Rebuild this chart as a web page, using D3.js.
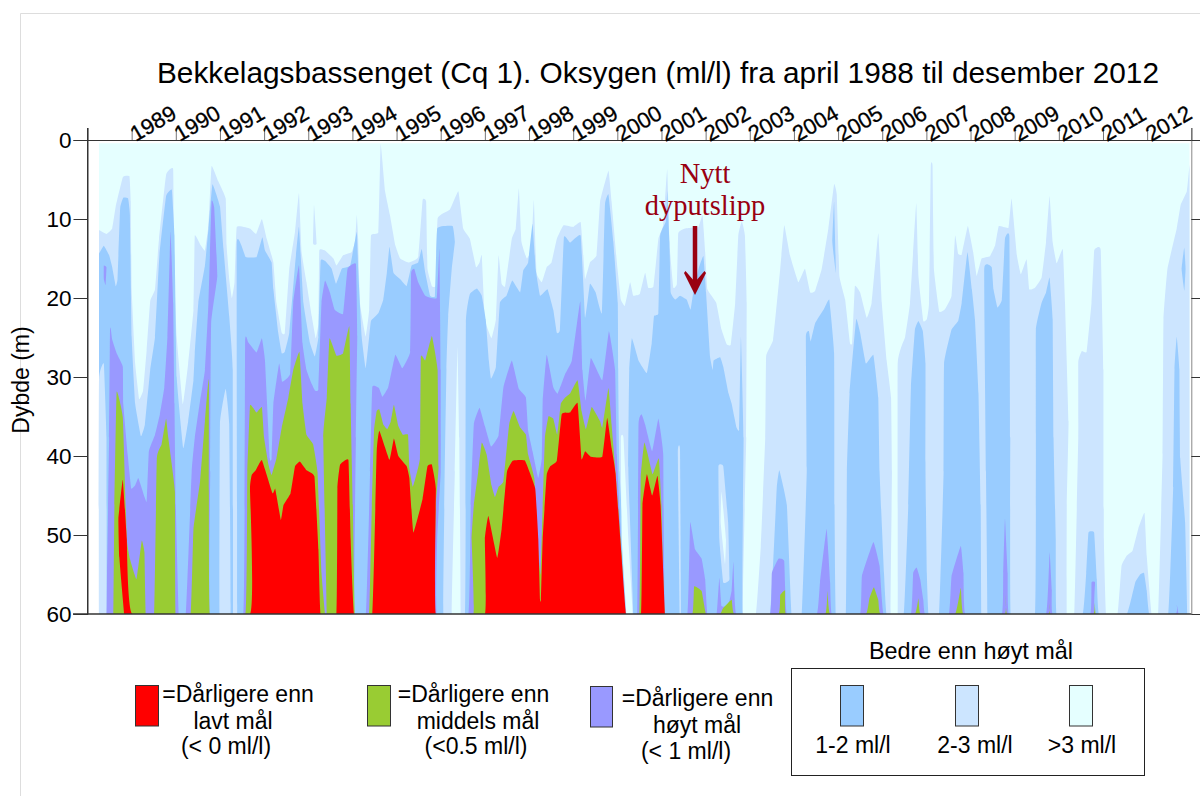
<!DOCTYPE html>
<html><head><meta charset="utf-8">
<script src="https://cdn.jsdelivr.net/npm/d3@7"></script>
<style>html,body{margin:0;background:#fff}svg{display:block}text{font-family:"Liberation Sans",Arial,sans-serif;fill:#000}</style>
</head><body><svg id="c" width="1200" height="796"></svg>
<script>
// x = years since January 1988, depth in metres
const yearLabels=[1989,1990,1991,1992,1993,1994,1995,1996,1997,1998,1999,2000,2001,2002,2003,2004,2005,2006,2007,2008,2009,2010,2011,2012];
const depthTicks=[0,10,20,30,40,50,60];
const surface=[[0.26,0.4],[24.96,0.4]];
// depth of the 3 ml/l isoline
const iso3=[[0.26,11.4],[0.43,11.9],[0.56,11.2],[0.64,8.4],[0.80,4.7],[0.95,4.6],[0.98,7.8],[1.00,18.9],[1.08,28.3],[1.17,32.8],[1.26,31.7],[1.34,26.6],[1.42,20.4],[1.53,18.9],[1.62,12.5],[1.78,4.4],[1.94,3.7],[1.96,16.3],[2.02,24.9],[2.16,33.4],[2.28,28.3],[2.40,21.5],[2.43,12.1],[2.56,13.3],[2.66,14.0],[2.74,10.8],[2.81,3.3],[2.96,5.2],[3.13,7.4],[3.15,13.3],[3.21,17.6],[3.27,20.0],[3.33,18.0],[3.38,11.0],[3.68,11.2],[3.82,11.9],[3.95,10.0],[4.06,12.5],[4.21,15.5],[4.28,20.6],[4.40,24.4],[4.47,24.4],[4.57,16.3],[4.70,11.6],[4.79,6.7],[4.85,14.2],[4.96,18.0],[5.08,22.3],[5.17,25.1],[5.23,23.2],[5.25,14.0],[5.38,14.0],[5.57,15.0],[5.64,15.9],[5.79,14.6],[5.98,14.2],[6.06,12.9],[6.10,9.5],[6.13,12.5],[6.17,20.6],[6.30,24.9],[6.38,21.5],[6.42,12.1],[6.59,11.6],[6.64,0.5],[6.74,6.5],[6.85,9.5],[6.97,13.3],[7.08,15.0],[7.27,15.5],[7.49,14.8],[7.59,7.6],[7.67,7.8],[7.70,16.3],[7.80,18.5],[7.89,18.4],[7.93,9.9],[8.21,8.8],[8.40,6.5],[8.51,11.2],[8.66,12.5],[8.80,16.1],[8.88,15.5],[8.93,14.6],[9.00,22.7],[9.15,25.1],[9.25,22.7],[9.31,14.6],[9.38,18.2],[9.46,18.5],[9.61,12.5],[9.70,11.2],[9.77,6.1],[9.83,12.9],[9.95,15.0],[10.05,13.8],[10.11,7.6],[10.17,16.8],[10.29,18.0],[10.40,16.1],[10.51,15.5],[10.63,12.5],[10.78,10.8],[11.00,11.0],[11.17,10.4],[11.23,14.6],[11.27,17.6],[11.38,15.5],[11.53,14.6],[11.61,7.8],[11.80,3.9],[11.87,7.8],[11.99,15.5],[12.08,20.2],[12.17,21.0],[12.29,18.0],[12.36,19.7],[12.51,19.5],[12.63,16.8],[12.70,18.7],[12.82,18.5],[12.93,12.5],[13.04,10.8],[13.13,3.7],[13.19,13.8],[13.27,18.7],[13.35,18.2],[13.38,11.8],[13.53,11.2],[13.70,11.1],[13.84,11.0],[13.93,9.5],[13.99,14.2],[14.04,18.9],[14.24,20.6],[14.36,24.0],[14.48,25.9],[14.57,25.9],[14.67,20.6],[14.74,12.1],[14.82,10.3],[14.89,12.1],[14.93,20.6],[14.92,37.7],[14.84,60],[15.14,60],[15.25,51.4],[15.35,37.7],[15.37,27.4],[15.53,25.3],[15.69,16.3],[15.78,10.8],[15.91,14.6],[16.10,18.0],[16.25,16.3],[16.37,19.3],[16.48,19.1],[16.63,16.3],[16.78,11.2],[16.91,5.6],[16.97,6.9],[17.03,17.2],[17.16,20.2],[17.27,25.7],[17.32,25.7],[17.38,18.5],[17.50,19.3],[17.65,22.5],[17.76,20.6],[17.91,11.8],[17.99,20.6],[18.10,27.9],[18.20,32.6],[18.22,42],[18.19,60],[18.35,60],[18.35,28.3],[18.52,24.9],[18.63,20.6],[18.77,8.0],[18.82,17.2],[18.93,22.9],[19.01,22.7],[19.06,20.6],[19.10,3.3],[19.14,3.3],[19.17,16.3],[19.29,21.7],[19.41,21.5],[19.57,19.7],[19.65,12.1],[19.72,14.4],[19.80,14.5],[19.94,10.9],[20.06,14.2],[20.14,17.2],[20.25,15.0],[20.44,14.7],[20.56,13.3],[20.64,10.9],[20.86,11.1],[20.93,7.4],[21.05,14.6],[21.14,17.0],[21.27,15.1],[21.33,18.9],[21.46,18.7],[21.61,17.4],[21.71,12.9],[21.79,7.1],[21.86,12.9],[21.95,15.6],[22.09,13.8],[22.14,20.6],[22.22,35.6],[22.18,46.2],[22.18,60],[22.35,60],[22.44,37.7],[22.44,28.1],[22.52,26.7],[22.63,26.8],[22.74,20.6],[22.80,14.0],[22.87,13.6],[22.95,14.0],[23.01,29.1],[23.02,50.5],[23.07,60],[23.33,60],[23.42,53.9],[23.54,52.6],[23.67,52.0],[23.80,49.2],[23.94,47.2],[23.99,52.6],[24.10,60],[24.25,60],[24.35,39.8],[24.37,22.7],[24.46,16.3],[24.67,11.2],[24.76,8.2],[24.90,6.5],[24.96,3.1]];
// depth of the 2 ml/l isoline
const iso2=[[0.26,14.4],[0.37,13.4],[0.49,14.6],[0.56,16.1],[0.64,18.5],[0.68,17.6],[0.74,8.6],[0.81,7.3],[0.92,7.4],[0.96,9.5],[1.00,24.9],[1.08,33.4],[1.21,37.5],[1.30,36.0],[1.42,29.1],[1.53,24.9],[1.63,14.5],[1.78,7.1],[1.91,6.3],[1.97,12.1],[2.02,30.0],[2.17,39.0],[2.28,35.6],[2.40,30.4],[2.43,27.0],[2.51,20.6],[2.66,15.9],[2.74,11.2],[2.83,5.6],[3.00,8.4],[3.08,13.8],[3.21,22.3],[3.29,29.1],[3.30,60],[3.39,60],[3.38,13.1],[3.58,14.8],[3.83,14.8],[3.96,12.3],[4.02,14.0],[4.17,15.5],[4.21,18.9],[4.32,24.4],[4.40,27.0],[4.47,26.8],[4.57,24.4],[4.70,15.9],[4.79,11.0],[4.89,20.6],[5.04,25.7],[5.15,27.4],[5.23,24.9],[5.28,15.3],[5.38,15.3],[5.53,16.3],[5.63,18.2],[5.76,16.3],[5.95,15.9],[6.10,11.6],[6.13,16.3],[6.21,24.9],[6.30,28.9],[6.38,24.9],[6.42,22.9],[6.59,21.9],[6.70,20.2],[6.78,16.8],[6.84,13.5],[6.93,16.8],[7.08,17.6],[7.23,18.5],[7.34,15.9],[7.49,15.5],[7.57,13.8],[7.65,16.8],[7.76,19.7],[7.87,19.7],[7.92,11.2],[8.27,10.9],[8.32,12.9],[8.25,16.3],[8.17,22.3],[8.13,29.1],[8.06,60],[8.55,60],[8.57,23.2],[8.66,19.5],[8.82,18.8],[8.93,19.7],[9.02,22.7],[9.09,27.9],[9.14,30.2],[9.25,28.7],[9.34,20.6],[9.49,19.7],[9.62,17.8],[9.80,19.3],[9.87,16.5],[9.98,15.5],[10.08,10.6],[10.15,16.3],[10.25,19.7],[10.42,18.9],[10.55,21.5],[10.63,24.4],[10.70,24.0],[10.79,12.3],[10.93,13.0],[11.17,12.1],[11.27,22.5],[11.38,18.2],[11.51,19.3],[11.65,21.9],[11.72,8.2],[11.80,6.9],[11.91,12.9],[12.01,20.6],[12.02,29.0],[12.05,42.0],[12.18,54.8],[12.21,60],[12.36,60],[12.25,42.0],[12.27,29.1],[12.33,25.1],[12.48,27.9],[12.67,29.5],[12.78,25.7],[12.83,22.3],[12.93,21.9],[12.97,12.1],[13.10,10.3],[13.13,6.5],[13.18,12.9],[13.21,19.3],[13.31,20.2],[13.42,19.7],[13.57,20.2],[13.66,21.5],[13.72,19.3],[13.84,16.3],[13.95,14.7],[14.01,19.3],[14.10,27.4],[14.16,29.1],[14.18,27.9],[14.33,27.5],[14.40,28.7],[14.52,32.1],[14.59,33.4],[14.70,36.4],[14.76,36.6],[14.80,24.9],[14.86,37.7],[14.84,60],[15.46,60],[15.61,44.1],[15.67,41.8],[15.84,46.2],[15.95,60],[16.18,60],[16.29,42.0],[16.27,24.9],[16.34,24.2],[16.38,25.5],[16.48,23.2],[16.67,21.5],[16.80,20.2],[16.91,27.0],[16.92,46.2],[16.95,60],[17.18,60],[17.20,42.0],[17.26,32.1],[17.41,22.7],[17.50,24.4],[17.63,28.3],[17.80,27.2],[17.91,32.6],[17.94,42.0],[18.04,54.8],[18.10,60],[18.49,60],[18.59,46.2],[18.65,31.3],[18.74,24.0],[18.82,22.9],[18.92,24.2],[18.98,28.3],[18.98,42.0],[19.01,54.8],[19.05,60],[19.29,60],[19.39,42.0],[19.40,28.3],[19.57,24.0],[19.72,22.9],[19.80,20.6],[19.93,14.2],[20.03,18.9],[20.10,22.7],[20.18,32.1],[20.23,46.2],[20.25,60],[20.38,60],[20.35,42.0],[20.31,16.3],[20.48,16.1],[20.52,18.9],[20.61,21.2],[20.71,20.2],[20.78,12.5],[20.88,12.3],[20.90,37.7],[20.91,60],[21.46,60],[21.48,37.7],[21.48,24.0],[21.61,20.6],[21.71,19.3],[21.79,17.4],[21.86,22.7],[21.88,37.7],[21.93,50.5],[21.95,60],[22.54,60],[22.62,54.8],[22.67,49.7],[22.80,49.7],[22.86,55.6],[22.91,60],[23.54,60],[23.73,56.0],[23.84,55.0],[23.93,54.8],[23.99,57.0],[24.05,60],[24.48,60],[24.59,44.0],[24.62,29.0],[24.67,24.9],[24.73,29.0],[24.75,40.3],[24.86,48.4],[24.91,60]];
// depth of the 1 ml/l isoline
const iso1=[[0.43,60],[0.49,37.7],[0.51,24.0],[0.53,24.0],[0.56,25.3],[0.66,27.0],[0.80,28.7],[0.81,33.4],[0.91,39.8],[0.99,44.1],[1.08,43.7],[1.15,42.8],[1.23,44.1],[1.34,45.8],[1.39,39.4],[1.53,37.3],[1.64,34.7],[1.74,31.3],[1.81,24.9],[1.88,11.6],[1.94,20.6],[1.97,33.4],[2.00,46.2],[2.07,60],[2.23,60],[2.36,42.0],[2.43,37.7],[2.55,33.0],[2.66,29.1],[2.74,20.6],[2.81,7.8],[2.87,8.6],[2.94,17.2],[2.80,23.2],[2.78,42.0],[2.77,60],[3.53,60],[3.57,25.5],[3.64,25.6],[3.83,26.9],[3.95,25.1],[4.02,27.9],[4.13,40.3],[4.17,40.3],[4.21,33.4],[4.34,28.3],[4.41,30.6],[4.59,29.6],[4.66,20.6],[4.79,15.9],[4.87,25.7],[4.96,29.1],[5.08,30.9],[5.15,31.7],[5.23,31.5],[5.30,20.6],[5.38,17.8],[5.49,19.3],[5.60,21.5],[5.79,22.0],[5.89,16.3],[6.08,15.7],[6.11,24.9],[6.08,37.7],[6.04,60],[6.31,60],[6.40,42.0],[6.45,31.3],[6.60,31.4],[6.68,32.5],[6.81,31.3],[6.97,27.2],[7.13,28.9],[7.31,26.8],[7.33,16.8],[7.40,16.3],[7.49,18.0],[7.65,19.7],[7.91,20.0],[7.97,13.8],[8.00,29.1],[8.00,42.0],[7.92,50.5],[7.91,60],[8.63,60],[8.68,46.2],[8.75,36.0],[8.88,33.9],[9.00,36.2],[9.14,38.8],[9.31,37.4],[9.42,31.3],[9.61,27.9],[9.77,31.5],[9.93,32.6],[9.98,36.8],[10.08,39.4],[10.21,42.8],[10.29,40.3],[10.31,33.0],[10.40,27.2],[10.55,31.3],[10.65,32.1],[10.82,29.6],[10.97,27.9],[11.16,20.4],[11.21,29.1],[11.28,33.0],[11.40,27.6],[11.66,30.4],[11.81,24.2],[11.95,29.1],[11.99,39.8],[12.08,50.5],[12.17,60],[12.45,60],[12.48,36.0],[12.55,34.7],[12.63,36.0],[12.79,39.4],[12.93,35.3],[13.04,39.8],[13.08,60],[13.59,60],[13.65,48.4],[13.76,51.8],[13.91,53.0],[13.99,55.6],[14.04,60],[14.25,60],[14.31,55.4],[14.36,59.0],[14.51,59.0],[14.59,57.0],[14.63,53.4],[14.69,60],[15.46,60],[15.50,54.8],[15.65,53.0],[15.78,53.3],[15.84,60],[16.52,60],[16.59,56.0],[16.74,49.2],[16.82,56.0],[16.86,60],[17.50,60],[17.54,55.2],[17.80,50.9],[17.94,53.9],[18.03,60],[18.65,60],[18.70,54.8],[18.78,54.1],[18.86,55.6],[18.93,58.2],[18.97,60],[19.51,60],[19.57,55.2],[19.78,51.4],[19.84,54.8],[19.88,60],[20.71,60],[20.74,54.8],[20.78,47.9],[20.84,54.8],[20.87,60],[21.71,60],[21.79,52.2],[21.84,56.9],[21.86,60],[22.71,60],[22.74,56.0],[22.82,56.0],[22.84,60],[24.63,60],[24.67,58.8],[24.71,60]];
// depth of the 0.5 ml/l isoline
const iso05=[[0.59,60],[0.61,46.2],[0.66,31.9],[0.80,35.1],[0.89,50.5],[0.96,53.0],[1.11,55.6],[1.23,50.7],[1.29,52.2],[1.32,60],[1.51,60],[1.57,40.3],[1.68,38.5],[1.78,35.3],[1.83,37.7],[1.98,44.5],[2.00,60],[2.34,60],[2.40,49.2],[2.55,43.2],[2.66,35.6],[2.75,30.4],[2.77,60],[3.58,60],[3.62,42.0],[3.68,33.6],[3.75,33.9],[3.83,34.5],[3.95,33.8],[4.00,37.7],[4.10,41.1],[4.17,42.4],[4.28,40.3],[4.40,36.4],[4.55,32.6],[4.66,29.1],[4.80,26.8],[4.87,33.4],[4.96,37.3],[5.11,38.5],[5.21,42.0],[5.30,54.8],[5.38,60],[5.42,60],[5.34,37.7],[5.42,32.6],[5.48,25.1],[5.64,27.3],[5.79,27.0],[5.93,23.6],[5.96,33.4],[6.01,46.2],[6.06,60],[6.38,60],[6.44,46.2],[6.49,36.8],[6.55,34.3],[6.61,34.1],[6.70,36.0],[6.79,36.6],[6.87,35.6],[6.94,33.5],[7.04,36.2],[7.14,37.3],[7.26,37.3],[7.29,41.5],[7.37,43.9],[7.53,40.3],[7.55,27.4],[7.65,27.9],[7.80,24.8],[7.93,29.1],[7.95,41.5],[7.89,46.2],[7.87,60],[8.74,60],[8.70,50.5],[8.75,46.2],[8.85,42.0],[8.93,38.3],[9.04,39.8],[9.15,43.7],[9.23,45.2],[9.31,43.9],[9.42,43.2],[9.55,36.0],[9.65,34.3],[9.80,36.4],[9.93,37.3],[9.98,39.8],[10.12,42.8],[10.21,52.0],[10.26,55.0],[10.31,46.2],[10.36,37.7],[10.44,35.0],[10.55,35.3],[10.64,37.3],[10.72,33.4],[10.82,32.6],[10.93,32.1],[11.10,30.4],[11.19,34.3],[11.29,36.6],[11.42,33.8],[11.61,35.6],[11.66,36.4],[11.80,31.4],[11.87,36.0],[11.96,42.0],[12.10,52.6],[12.17,60],[12.50,60],[12.53,42.8],[12.61,38.3],[12.69,39.8],[12.80,42.3],[12.94,40.3],[13.00,46.2],[13.08,60],[13.70,60],[13.74,56.5],[13.91,57.1],[14.01,60],[14.33,60],[14.39,59.3],[14.59,58.2],[14.65,60],[15.65,60],[15.69,57.6],[15.80,57.0],[15.82,60],[16.71,60],[16.76,57.1],[16.82,60],[17.63,60],[17.71,58.0],[17.81,56.6],[17.91,58.2],[17.96,60],[18.74,60],[18.82,58.0],[18.87,60],[19.65,60],[19.78,56.7],[19.84,60],[20.78,60],[20.80,57.4],[20.83,60],[21.76,60],[21.79,58.6],[21.81,60],[22.78,60],[22.81,58.6],[22.83,60]];
// depth of the 0 ml/l isoline
const iso0=[[0.83,60],[0.72,52.8],[0.70,47.9],[0.80,43.0],[0.89,50.5],[1.02,60],[3.68,60],[3.68,44.1],[3.72,42.4],[3.81,41.8],[3.95,40.5],[4.19,44.7],[4.25,44.1],[4.28,45.0],[4.38,48.1],[4.44,46.2],[4.60,44.7],[4.70,41.3],[4.81,40.7],[4.96,41.8],[5.14,42.6],[5.23,51.8],[5.28,60],[5.64,60],[5.66,44.1],[5.72,41.1],[5.91,40.5],[5.96,50.5],[6.04,60],[6.45,60],[6.55,39.4],[6.61,36.8],[6.84,40.5],[6.94,37.8],[7.04,40.0],[7.23,41.3],[7.29,42.8],[7.38,49.7],[7.59,45.4],[7.70,41.3],[7.80,41.1],[7.89,44.1],[7.89,60],[9.00,60],[9.00,50.5],[9.08,47.6],[9.28,52.9],[9.38,49.2],[9.50,42.0],[9.63,40.6],[9.91,40.6],[10.14,44.1],[10.21,50.5],[10.25,58.2],[10.27,58.2],[10.31,50.5],[10.40,42.4],[10.48,41.3],[10.63,40.6],[10.74,34.7],[10.93,34.5],[11.10,33.3],[11.19,40.4],[11.27,39.4],[11.40,40.1],[11.66,40.1],[11.77,35.2],[11.87,39.0],[11.96,42.2],[12.20,60],[12.54,60],[12.57,46.2],[12.67,42.3],[12.79,45.0],[12.91,42.5],[12.98,46.2],[13.08,60]];
// closed pockets that the isolines above cannot describe
const pockets23=[[[0.26,60],[0.26,30.4],[0.37,28.3],[0.43,37.7],[0.43,60]],[[2.99,60],[3.00,36],[3.13,31.5],[3.21,36],[3.24,60]],[[13.41,60],[13.37,39.4],[13.42,39.2],[13.44,60]],[[14.29,41.3],[14.40,41.3],[14.51,48.4],[14.54,55.6],[14.40,56],[14.31,50.5]],[[5.13,8.2],[5.19,13.1],[5.11,13.1]]];
const pockets3=[[[8.25,60],[8.32,42],[8.38,26.2],[8.42,37.7],[8.45,60]],[[12.08,37.7],[12.14,37.7],[12.25,50.5],[12.35,60],[12.21,60],[12.10,50.5]],[[14.36,44.5],[14.46,50.5],[14.44,53.7],[14.34,48.4]]];
const pockets12=[[[16.91,7.8],[16.95,16.8],[16.87,12.9]],[[24.84,13.6],[24.87,16.3],[24.84,19.1],[24.78,16.3]]];
const pockets1=[[[0.37,15.9],[0.43,16.1],[0.41,18.4],[0.37,17.6]]];
const colors={c3:"#E5FFFF",c23:"#CCE5FF",c12:"#99CCFF",c1:"#9999FF",c05:"#99CC33",c0:"#FF0000"};
const legendLeft=[
 {c:colors.c0,x:135.5,y:685.5,lines:[["=Dårligere enn",238,702],["lavt mål",233,729],["(< 0 ml/l)",226,754]]},
 {c:colors.c05,x:367.5,y:685.5,lines:[["=Dårligere enn",473.5,702],["middels mål",478,729],["(<0.5 ml/l)",476,754]]},
 {c:colors.c1,x:590.5,y:686.5,lines:[["=Dårligere enn",697.5,706],["høyt mål",697,733],["(< 1 ml/l)",686,759]]}];
const legendBox=[{c:colors.c12,x:840.5,t:"1-2 ml/l",tx:853},{c:colors.c23,x:955.5,t:"2-3 ml/l",tx:975},{c:colors.c3,x:1069.5,t:">3 ml/l",tx:1082}];

const svg=d3.select("#c");
const X=d3.scaleLinear().domain([0,25]).range([87.5,1191.3]);
const Y=d3.scaleLinear().domain([0,60]).range([140,614]);
const smooth=d3.curveCardinal.tension(0.75);
const area=d3.area().x(d=>X(d[0])).y1(d=>Y(d[1])).y0(Y(60)).curve(smooth);
const poly=d3.line().x(d=>X(d[0])).y(d=>Y(d[1])).curve(d3.curveCardinalClosed.tension(0.75));

svg.append("clipPath").attr("id","plot").append("rect").attr("x",X(0)).attr("y",Y(0)).attr("width",X(25)-X(0)).attr("height",Y(60)-Y(0));
// faint page frame
svg.append("path").attr("d","M20.5,796V13.5H1200").attr("fill","none").attr("stroke","#ddd");

const g=svg.append("g").attr("clip-path","url(#plot)");
[[surface,colors.c3],[iso3,colors.c23],[iso2,colors.c12],[iso1,colors.c1],[iso05,colors.c05],[iso0,colors.c0]].forEach(([d,c])=>g.append("path").attr("d",area(d)).attr("fill",c));
[[pockets23,colors.c23],[pockets3,colors.c3],[pockets12,colors.c12],[pockets1,colors.c1]].forEach(([list,c])=>list.forEach(p=>g.append("path").attr("d",poly(p)).attr("fill",c)));

// axes
const axTop=svg.append("g").attr("transform","translate(0,140)").call(d3.axisTop(X).tickValues(d3.range(0,26)).tickSize(12).tickFormat(""));
const axLeft=svg.append("g").attr("transform","translate(87.5,0)").call(d3.axisLeft(Y).tickValues(depthTicks).tickSize(14).tickPadding(2));
const axRight=svg.append("g").attr("transform","translate(1191.3,0)").call(d3.axisRight(Y).tickValues(depthTicks).tickSize(9).tickFormat(""));
svg.append("line").attr("x1",73).attr("x2",1191.3).attr("y1",614).attr("y2",614).attr("stroke","#333").attr("stroke-width",1.5);
[axTop,axLeft,axRight].forEach(a=>{a.selectAll(".domain").attr("stroke","#333");a.selectAll("line").attr("stroke","#333");});
axRight.select(".domain").attr("stroke","#888");
axTop.selectAll("g.tick line").attr("stroke","#777");
axLeft.selectAll("text").attr("font-size",22.5).attr("font-family","Liberation Sans");
svg.append("line").attr("x1",87.5).attr("x2",87.5).attr("y1",128).attr("y2",614).attr("stroke","#333");

yearLabels.forEach((y,i)=>svg.append("text").attr("transform",`translate(${X(i+1)+4},142) rotate(-30)`).attr("font-size",22).attr("stroke","#000").attr("stroke-width",0.3).text(y));

svg.append("text").attr("x",157).attr("y",83).attr("font-size",29.8).text("Bekkelagsbassenget (Cq 1). Oksygen (ml/l) fra april 1988 til desember 2012");
svg.append("text").attr("transform","translate(29,380) rotate(-90)").attr("text-anchor","middle").attr("font-size",23).text("Dybde (m)");

// annotation
const red="#990011";
[["Nytt",705,183],["dyputslipp",705,215]].forEach(([t,x,y])=>svg.append("text").attr("x",x).attr("y",y).attr("text-anchor","middle").attr("font-size",28.5).style("font-family","Liberation Serif").style("fill",red).text(t));
svg.append("line").attr("x1",695).attr("x2",695).attr("y1",226).attr("y2",285).attr("stroke",red).attr("stroke-width",4.5);
svg.append("path").attr("d","M685.5,271 L695,282 L704.5,271 L706,273 L695,295 L684,273Z").attr("fill",red);

// legend
legendLeft.forEach(l=>{
 svg.append("rect").attr("x",l.x).attr("y",l.y).attr("width",l.x>500?22:23).attr("height",40.5).attr("fill",l.c).attr("stroke","#333");
 l.lines.forEach(([t,x,y])=>svg.append("text").attr("x",x).attr("y",y).attr("text-anchor","middle").attr("font-size",23).text(t));
});
svg.append("rect").attr("x",791.5).attr("y",668.5).attr("width",353).attr("height",107).attr("fill","none").attr("stroke","#222");
svg.append("text").attr("x",971).attr("y",659).attr("text-anchor","middle").attr("font-size",23.4).text("Bedre enn høyt mål");
legendBox.forEach(l=>{
 svg.append("rect").attr("x",l.x).attr("y",685.5).attr("width",23).attr("height",40.5).attr("fill",l.c).attr("stroke","#333");
 svg.append("text").attr("x",l.tx).attr("y",753).attr("text-anchor","middle").attr("font-size",23).text(l.t);
});
</script></body></html>
